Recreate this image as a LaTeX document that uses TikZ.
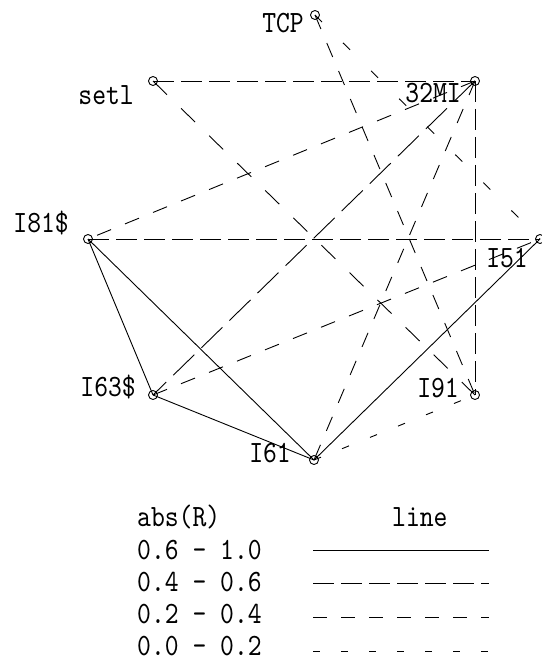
\documentclass[tikz,border=0pt]{standalone}
\usepackage{fontspec}
\newfontfamily\plotfont{lmmono10-regular.otf}[FakeStretch=0.85]
\usepackage{tikz}

\begin{document}
\begin{tikzpicture}[x=1pt,y=-1pt,
  vtx/.style={draw,circle,minimum size=9pt,inner sep=0pt,line width=0.9pt},
  lbl/.style={inner sep=0pt,font=\fontsize{31}{31}\selectfont\plotfont},
  rsolid/.style={line width=0.9pt},
  rlong/.style={line width=0.9pt,dash pattern=on #1*21pt off #1*7pt},
  rlong/.default=1,
  rmid/.style={line width=0.9pt,dash pattern=on #1*14pt off #1*14pt},
  rmid/.default=1,
  rweak/.style={line width=0.9pt,dash pattern=on #1*7pt off #1*21pt},
  rweak/.default=1]
\useasboundingbox (0,0) rectangle (541,663);
% variables
\node[vtx] (v_tcp) at (315,15) {};
\node[vtx] (v_setl) at (153,81) {};
\node[vtx] (v_32mi) at (475,81) {};
\node[vtx] (v_i81) at (88,239) {};
\node[vtx] (v_i51) at (540,239) {};
\node[vtx] (v_i63) at (153,395) {};
\node[vtx] (v_i91) at (475,395) {};
\node[vtx] (v_i61) at (314,460) {};
\node[lbl,anchor=base east] (t_tcp) at (304,33) {TCP};
\node[lbl,anchor=base east] (t_setl) at (134,105) {setl};
\node[lbl,anchor=base east] (t_32mi) at (461,103) {32MI};
\node[lbl,anchor=base east] (t_i81) at (69,232) {I81\$};
\node[lbl,anchor=base east] (t_i51) at (528,267) {I51};
\node[lbl,anchor=base east] (t_i63) at (136,396) {I63\$};
\node[lbl,anchor=base east] (t_i91) at (459,397) {I91};
\node[lbl,anchor=base east] (t_i61) at (291,462) {I61};
% correlations
\draw[rsolid] (v_i81.center)--(v_i63.center);
\draw[rsolid] (v_i81.center)--(v_i61.center);
\draw[rsolid] (v_i63.center)--(v_i61.center);
\draw[rsolid] (v_i61.center)--(v_i51.center);
\draw[rlong] (v_setl.center)--(v_32mi.center);
\draw[rlong] (v_32mi.center)--(v_i91.center);
\draw[rlong] (v_i81.center)--(v_i51.center);
\draw[rlong=1.4] (v_32mi.center)--(v_i63.center);
\draw[rmid=1.4] (v_setl.center)--(v_i91.center);
\draw[rmid=1.085] (v_tcp.center)--(v_i91.center);
\draw[rmid=1.08] (v_32mi.center)--(v_i81.center);
\draw[rmid=1.086] (v_32mi.center)--(v_i61.center);
\draw[rmid=1.078] (v_i63.center)--(v_i51.center);
\draw[rweak=1.414] (v_tcp.center)--(v_i51.center);
\draw[rweak=1.078] (v_i61.center)--(v_i91.center);
% legend
\node[lbl,anchor=base west] (k_head) at (137,526) {abs(R)};
\node[lbl,anchor=base west] (k_line) at (392,526) {line};
\node[lbl,anchor=base west] (k_r1) at (137,559) {0.6 - 1.0};
\node[lbl,anchor=base west] (k_r2) at (137,591) {0.4 - 0.6};
\node[lbl,anchor=base west] (k_r3) at (137,623) {0.2 - 0.4};
\node[lbl,anchor=base west] (k_r4) at (137,655) {0.0 - 0.2};
\coordinate (k_a1) at (313,550);
\coordinate (k_b1) at (489,550);
\coordinate (k_a2) at (313,583);
\coordinate (k_b2) at (489,583);
\coordinate (k_a3) at (313,617);
\coordinate (k_b3) at (489,617);
\coordinate (k_a4) at (313,651);
\coordinate (k_b4) at (489,651);
\draw[rsolid] (k_a1)--(k_b1);
\draw[rlong] (k_a2)--(k_b2);
\draw[rmid] (k_a3)--(k_b3);
\draw[rweak] (k_a4)--(k_b4);
\end{tikzpicture}
\end{document}
